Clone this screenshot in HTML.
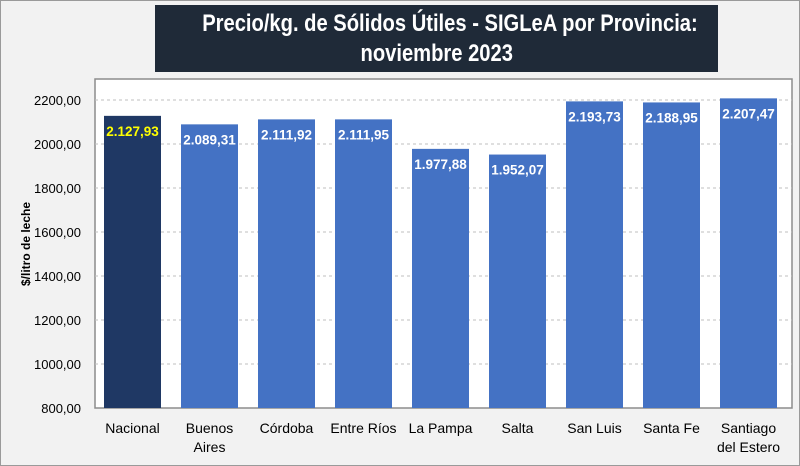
<!DOCTYPE html>
<html><head><meta charset="utf-8"><style>
body{margin:0;width:800px;height:466px;overflow:hidden;background:#f2f2f2;font-family:"Liberation Sans",sans-serif}
#frame{position:absolute;left:0;top:0;width:798px;height:464px;border:1px solid #9a9a9a;background:#f2f2f2}
#title{position:absolute;left:155px;top:5px;width:563px;height:67px;background:#1f2a38;color:#fff;font-weight:bold;font-size:24px;text-align:center;line-height:30px;padding-top:4px;box-sizing:border-box;white-space:nowrap}
#title span{display:inline-block;transform:scaleX(0.84);transform-origin:center}
</style></head><body>
<div id="frame"></div>
<div id="title"><span>Precio/kg. de Sólidos Útiles - SIGLeA por Provincia:</span><br><span>noviembre 2023</span></div>
<svg id="chart" width="800" height="466" style="position:absolute;left:0;top:0"></svg>
<script>
const categories=[["Nacional"],["Buenos","Aires"],["Córdoba"],["Entre Ríos"],["La Pampa"],["Salta"],["San Luis"],["Santa Fe"],["Santiago","del Estero"]];
const values=[2127.93,2089.31,2111.92,2111.95,1977.88,1952.07,2193.73,2188.95,2207.47];
const valueLabels=["2.127,93","2.089,31","2.111,92","2.111,95","1.977,88","1.952,07","2.193,73","2.188,95","2.207,47"];
const yTicks=[800,1000,1200,1400,1600,1800,2000,2200];
const yTickLabels=["800,00","1000,00","1200,00","1400,00","1600,00","1800,00","2000,00","2200,00"];
const svg=document.getElementById('chart');const NS='http://www.w3.org/2000/svg';
const L=95,R=788,T=79,B=408,ymin=800,ymax=2200,ytop=100;
const y=v=>B-(v-ymin)/(ymax-ymin)*(B-ytop);
const bw=(R-L)/categories.length;const x=i=>L+bw*i;
function mk(t,a,p){const e=document.createElementNS(NS,t);for(const k in a)e.setAttribute(k,a[k]);(p||svg).appendChild(e);return e;}
const pa=mk('rect',{x:L,y:T,width:R-L+4,height:B-T,fill:'#fff',stroke:'#8c8c8c','stroke-width':1.5});


yTicks.forEach((t,i)=>{
 if(t>ymin){const g=mk('line',{x1:L,x2:R+4,y1:y(t),y2:y(t),stroke:'#bfbfbf','stroke-dasharray':'3,3'});
 
 }
 const tx=mk('text',{x:L-14,y:y(t)+5,'text-anchor':'end','font-size':13,fill:'#000'});tx.textContent=yTickLabels[i];
 
 
});
values.forEach((v,i)=>{
 const r=mk('rect',{x:x(i)+9,y:y(v),width:bw-20,height:B-y(v),fill:i==0?'#1f3864':'#4472c4'});
 
 
 const t=mk('text',{x:x(i)+bw/2-1,y:y(v)+20,'text-anchor':'middle','font-size':13.5,'font-weight':'bold',fill:i==0?'#ffff00':'#fff'});t.textContent=valueLabels[i];
 
 
 categories[i].forEach((ln,j)=>{const c=mk('text',{x:x(i)+bw/2-1,y:433+j*19,'text-anchor':'middle','font-size':14,fill:'#000'});c.textContent=ln;
 
 });
});
const yt=mk('text',{x:0,y:0,transform:'translate(30,244) rotate(-90)','text-anchor':'middle','font-size':12,'font-weight':'bold',fill:'#000'});yt.textContent='$/litro de leche';


</script>
</body></html>
